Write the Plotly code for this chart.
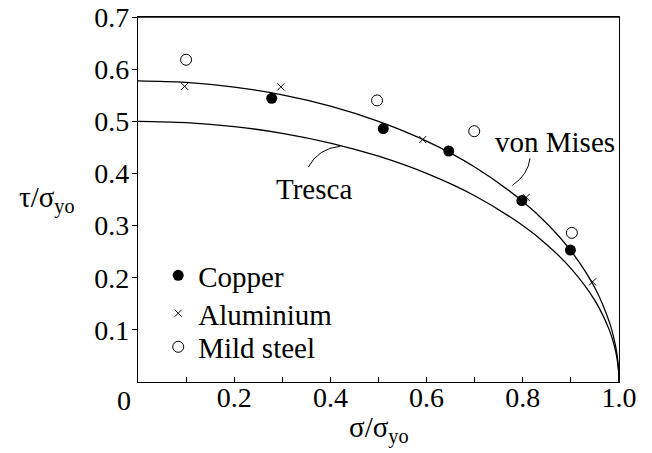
import plotly.graph_objects as go

# ---- data ----
copper_x = [0.278, 0.510, 0.646, 0.798, 0.899]
copper_y = [0.544, 0.486, 0.443, 0.348, 0.253]

alu_x = [0.097, 0.297, 0.592, 0.807, 0.945]
alu_y = [0.567, 0.566, 0.465, 0.354, 0.192]

steel_x = [0.100, 0.497, 0.699, 0.902]
steel_y = [0.618, 0.540, 0.481, 0.286]

curve_x = [0.0, 0.1, 0.2, 0.3, 0.4, 0.5, 0.6, 0.7, 0.8, 0.85, 0.9, 0.95, 0.98, 0.99, 0.995, 0.999, 1.0]
mises_y = [0.5774, 0.5745, 0.5657, 0.5508, 0.5292, 0.5000, 0.4619, 0.4123, 0.3464,
           0.3041, 0.2517, 0.1803, 0.1149, 0.0814, 0.0577, 0.0258, 0.0]
tresca_y = [0.5000, 0.4975, 0.4899, 0.4770, 0.4583, 0.4330, 0.4000, 0.3571, 0.3000,
            0.2634, 0.2179, 0.1561, 0.0995, 0.0705, 0.0500, 0.0224, 0.0]

x_tickvals = [0.2, 0.4, 0.6, 0.8, 1.0]
x_ticktext = ["0.2", "0.4", "0.6", "0.8", "1.0"]
x_minorvals = [0.1, 0.3, 0.5, 0.7, 0.9]
y_tickvals = [0.1, 0.2, 0.3, 0.4, 0.5, 0.6, 0.7]
y_ticktext = ["0.1", "0.2", "0.3", "0.4", "0.5", "0.6", "0.7"]

FONT = "Liberation Serif, Times New Roman, serif"
FS = 29
TFS = 28

fig = go.Figure()

fig.add_trace(go.Scatter(x=curve_x, y=mises_y, mode="lines", line=dict(color="black", width=1.3, shape="spline"),
                         showlegend=False, hoverinfo="skip"))
fig.add_trace(go.Scatter(x=curve_x, y=tresca_y, mode="lines", line=dict(color="black", width=1.3, shape="spline"),
                         showlegend=False, hoverinfo="skip"))

fig.add_trace(go.Scatter(x=copper_x, y=copper_y, mode="markers", name="Copper",
                         marker=dict(symbol="circle", size=11, color="black"), legend="legend"))
fig.add_trace(go.Scatter(x=alu_x, y=alu_y, mode="markers", name="Aluminium",
                         marker=dict(symbol="x-thin", size=7, color="black", line=dict(width=1, color="black")),
                         legend="legend2"))
fig.add_trace(go.Scatter(x=steel_x, y=steel_y, mode="markers", name="Mild steel",
                         marker=dict(symbol="circle-open", size=11, color="black", line=dict(width=1, color="black")),
                         legend="legend3"))

leg_common = dict(font=dict(family=FONT, size=FS, color="black"), bgcolor="rgba(0,0,0,0)",
                  borderwidth=0, xanchor="left", yanchor="middle", x=0.042)

fig.update_layout(
    width=652, height=453,
    margin=dict(l=138, r=33, t=17, b=71, autoexpand=False),
    plot_bgcolor="white", paper_bgcolor="white",
    font=dict(family=FONT, size=FS, color="black"),
    modebar=dict(bgcolor="rgba(0,0,0,0)", color="rgba(0,0,0,0)", activecolor="rgba(0,0,0,0)"),
    legend=dict(**leg_common, y=0.292),
    legend2=dict(**leg_common, y=0.188),
    legend3=dict(**leg_common, y=0.096),
    xaxis=dict(range=[0, 1], showgrid=False, zeroline=False, showline=True, linecolor="black", linewidth=1.2,
               mirror=True, ticks="inside", ticklen=5, tickcolor="black", tickwidth=1, automargin=False,
               tickvals=x_tickvals, ticktext=x_ticktext, tickfont=dict(family=FONT, size=TFS),
               ticklabeloverflow="allow", ticklabelstandoff=-10,
               minor=dict(tickvals=x_minorvals, ticks="inside", ticklen=5, tickcolor="black")),
    yaxis=dict(range=[0, 0.7], showgrid=False, zeroline=False, showline=True, linecolor="black", linewidth=1.2,
               mirror=True, ticks="outside", ticklen=5, tickcolor="black", tickwidth=1, automargin=False,
               tickvals=y_tickvals, ticktext=y_ticktext, tickfont=dict(family=FONT, size=TFS),
               ticklabeloverflow="allow", ticklabelstandoff=-3),
)

# explicit top edge of the frame
fig.add_shape(type="line", xref="paper", yref="paper", x0=0, x1=1, y0=1, y1=1,
              line=dict(color="black", width=1.5), layer="above")

# Annotations: labels with leader lines
fig.add_annotation(x=0.365, y=0.37, xref="x", yref="y", text="Tresca", showarrow=False,
                   xanchor="center", yanchor="middle", font=dict(family=FONT, size=FS))
fig.add_annotation(x=0.867, y=0.46, xref="x", yref="y", text="von Mises", showarrow=False,
                   xanchor="center", yanchor="middle", font=dict(family=FONT, size=FS))
fig.add_shape(type="path", xref="x", yref="y", path="M 0.354 0.412 Q 0.375 0.448 0.42 0.452",
              line=dict(color="black", width=1))
fig.add_shape(type="path", xref="x", yref="y", path="M 0.815 0.429 Q 0.811 0.397 0.778 0.377",
              line=dict(color="black", width=1))

# Origin label and axis titles
fig.add_annotation(x=-0.030, y=-0.05, xref="paper", yref="paper", text="0", showarrow=False,
                   xanchor="center", yanchor="middle", font=dict(family=FONT, size=TFS))
fig.add_annotation(x=-0.19, y=0.50, xref="paper", yref="paper", text="τ/σ<sub>yo</sub>", showarrow=False,
                   xanchor="center", yanchor="middle", font=dict(family=FONT, size=FS))
fig.add_annotation(x=0.5, y=-0.13, xref="paper", yref="paper", text="σ/σ<sub>yo</sub>", showarrow=False,
                   xanchor="center", yanchor="middle", font=dict(family=FONT, size=FS))

fig.write_html("out.html", config={"displayModeBar": False},
               post_script="document.body.style.margin='0';document.body.style.overflow='hidden';")
